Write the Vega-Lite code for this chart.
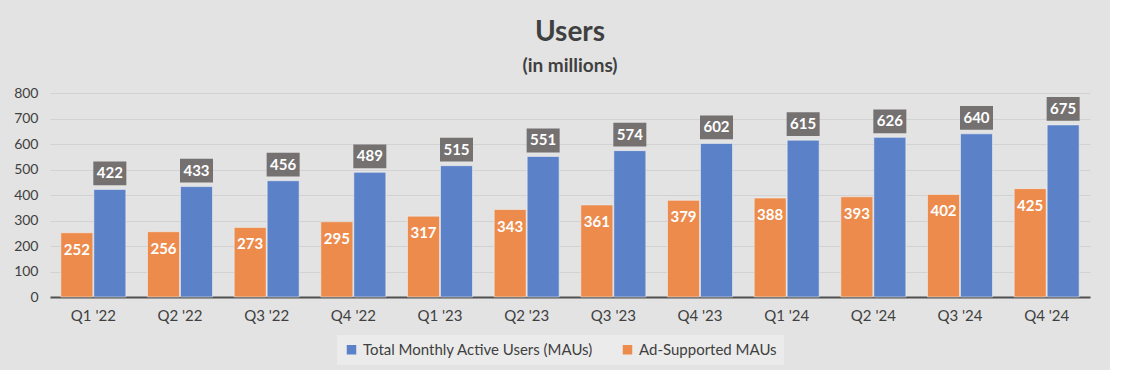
{
  "$schema": "https://vega.github.io/schema/vega-lite/v6.json",
  "width": 1040,
  "height": 204,
  "padding": {"left": 13, "top": 19, "right": 20, "bottom": 5},
  "background": "#e3e3e3",
  "title": {
    "text": "Users",
    "subtitle": "(in millions)",
    "anchor": "middle",
    "font": "Lato",
    "fontSize": 28,
    "fontWeight": "bold",
    "color": "#404040",
    "subtitleFont": "Lato",
    "subtitleFontSize": 19,
    "subtitleFontWeight": "bold",
    "subtitleColor": "#404040",
    "subtitlePadding": 10,
    "offset": 10
  },
  "data": {
    "values": [
      {"q": "Q1 '22", "series": "Ad-Supported MAUs", "v": 252},
      {"q": "Q1 '22", "series": "Total Monthly Active Users (MAUs)", "v": 422},
      {"q": "Q2 '22", "series": "Ad-Supported MAUs", "v": 256},
      {"q": "Q2 '22", "series": "Total Monthly Active Users (MAUs)", "v": 433},
      {"q": "Q3 '22", "series": "Ad-Supported MAUs", "v": 273},
      {"q": "Q3 '22", "series": "Total Monthly Active Users (MAUs)", "v": 456},
      {"q": "Q4 '22", "series": "Ad-Supported MAUs", "v": 295},
      {"q": "Q4 '22", "series": "Total Monthly Active Users (MAUs)", "v": 489},
      {"q": "Q1 '23", "series": "Ad-Supported MAUs", "v": 317},
      {"q": "Q1 '23", "series": "Total Monthly Active Users (MAUs)", "v": 515},
      {"q": "Q2 '23", "series": "Ad-Supported MAUs", "v": 343},
      {"q": "Q2 '23", "series": "Total Monthly Active Users (MAUs)", "v": 551},
      {"q": "Q3 '23", "series": "Ad-Supported MAUs", "v": 361},
      {"q": "Q3 '23", "series": "Total Monthly Active Users (MAUs)", "v": 574},
      {"q": "Q4 '23", "series": "Ad-Supported MAUs", "v": 379},
      {"q": "Q4 '23", "series": "Total Monthly Active Users (MAUs)", "v": 602},
      {"q": "Q1 '24", "series": "Ad-Supported MAUs", "v": 388},
      {"q": "Q1 '24", "series": "Total Monthly Active Users (MAUs)", "v": 615},
      {"q": "Q2 '24", "series": "Ad-Supported MAUs", "v": 393},
      {"q": "Q2 '24", "series": "Total Monthly Active Users (MAUs)", "v": 626},
      {"q": "Q3 '24", "series": "Ad-Supported MAUs", "v": 402},
      {"q": "Q3 '24", "series": "Total Monthly Active Users (MAUs)", "v": 640},
      {"q": "Q4 '24", "series": "Ad-Supported MAUs", "v": 425},
      {"q": "Q4 '24", "series": "Total Monthly Active Users (MAUs)", "v": 675}
    ]
  },
  "encoding": {
    "x": {
      "field": "q",
      "type": "nominal",
      "sort": null,
      "title": null,
      "scale": {"paddingInner": 0.25, "paddingOuter": 0.125},
      "axis": {
        "labelAngle": 0,
        "labelFont": "Lato",
        "labelFontSize": 15,
        "labelColor": "#404040",
        "labelPadding": 11,
        "ticks": false,
        "domainColor": "#505050",
        "domainWidth": 2
      }
    },
    "xOffset": {
      "field": "series",
      "type": "nominal",
      "scale": {"domain": ["Ad-Supported MAUs", "Total Monthly Active Users (MAUs)"], "paddingInner": 0.03}
    },
    "y": {
      "field": "v",
      "type": "quantitative",
      "title": null,
      "scale": {"domain": [0, 800], "nice": false},
      "axis": {
        "values": [0, 100, 200, 300, 400, 500, 600, 700, 800],
        "domain": false,
        "ticks": false,
        "labelFont": "Lato",
        "labelFontSize": 14,
        "labelColor": "#404040",
        "labelPadding": 12,
        "gridColor": "#d2d2d2",
        "gridWidth": 1
      }
    }
  },
  "layer": [
    {
      "mark": {"type": "bar", "stroke": "#f2f2f2", "strokeWidth": 0.8, "strokeOpacity": 0.7},
      "encoding": {
        "color": {
          "field": "series",
          "type": "nominal",
          "scale": {
            "domain": ["Total Monthly Active Users (MAUs)", "Ad-Supported MAUs"],
            "range": ["#5b81c8", "#ec8b4c"]
          },
          "legend": {
            "title": null,
            "orient": "none",
            "legendX": 287,
            "legendY": 242,
            "direction": "horizontal",
            "symbolType": "square",
            "symbolSize": 90,
            "symbolStrokeWidth": 0,
            "labelFont": "Lato",
            "labelFontSize": 15,
            "labelColor": "#404040",
            "labelLimit": 400,
            "columnPadding": 26,
            "fillColor": "#ebebeb",
            "padding": 7
          }
        }
      }
    },
    {
      "transform": [{"filter": "datum.series == 'Ad-Supported MAUs'"}],
      "mark": {"type": "text", "baseline": "middle", "dy": 17, "color": "white", "font": "Lato", "fontSize": 15, "fontWeight": "bold"},
      "encoding": {"text": {"field": "v", "type": "quantitative"}}
    },
    {
      "transform": [{"filter": "datum.series == 'Total Monthly Active Users (MAUs)'"}],
      "mark": {"type": "point", "shape": "M-1,-0.72H1V0.72H-1Z", "size": 1089, "filled": true, "color": "#6f6a6a", "opacity": 0.95, "yOffset": -16},
      "encoding": {}
    },
    {
      "transform": [{"filter": "datum.series == 'Total Monthly Active Users (MAUs)'"}],
      "mark": {"type": "text", "baseline": "middle", "dy": -16, "color": "white", "font": "Lato", "fontSize": 15, "fontWeight": "bold"},
      "encoding": {"text": {"field": "v", "type": "quantitative"}}
    }
  ],
  "config": {
    "view": {"stroke": null}
  }
}
